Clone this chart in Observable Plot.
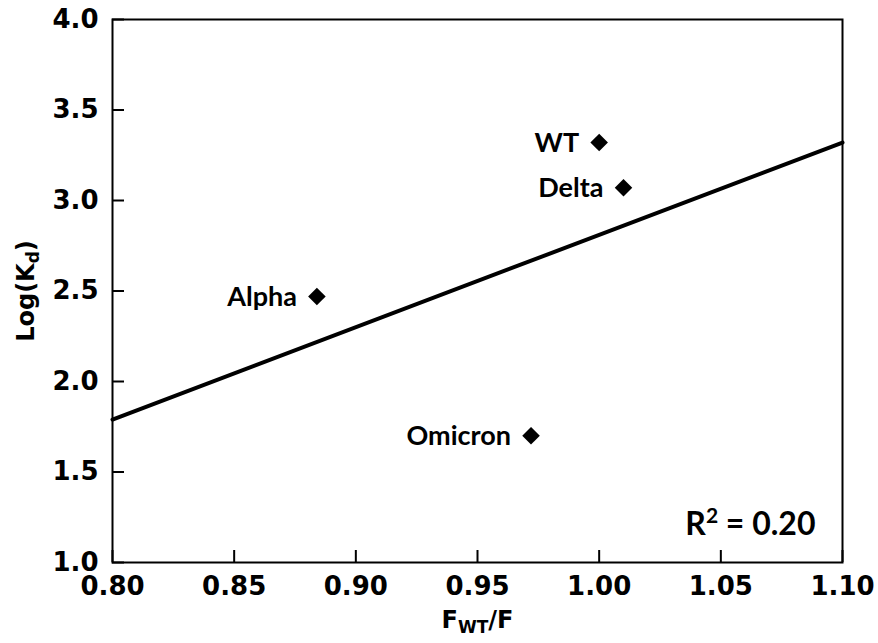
<!DOCTYPE html>
<html>
<head>
<meta charset="utf-8">
<script src="https://cdn.jsdelivr.net/npm/d3@7"></script>
<script src="https://cdn.jsdelivr.net/npm/@observablehq/plot@0.6"></script>
<style>
  html, body { margin: 0; padding: 0; background: #fff; }
</style>
</head>
<body>
<div id="chart"></div>
<script>
const variants = ["WT", "Delta", "Alpha", "Omicron"];
const fRatio = [1.00, 1.01, 0.884, 0.972];
const logKd = [3.32, 3.07, 2.47, 1.70];
const fitX = [0.80, 1.10];
const fitY = [1.79, 3.32];
const xTicks = [0.80, 0.85, 0.90, 0.95, 1.00, 1.05, 1.10];
const yTicks = [1.0, 1.5, 2.0, 2.5, 3.0, 3.5, 4.0];
const rSquaredText = "R2 = 0.20";
const xLabel = "FWT/F";
const yLabel = "Log(Kd)";

const points = variants.map((v, i) => ({ name: v, x: fRatio[i], y: logKd[i] }));
const fit = fitX.map((x, i) => ({ x, y: fitY[i] }));

const annFont = "Lato, 'Open Sans', sans-serif";

const chart = Plot.plot({
  width: 878,
  height: 643,
  marginLeft: 112,
  marginRight: 36,
  marginTop: 19,
  marginBottom: 81,
  x: { domain: [0.80, 1.10] },
  y: { domain: [1.0, 4.0] },
  style: { fontFamily: "'DejaVu Sans', sans-serif", fontWeight: "bold", fontSize: "26px", color: "black", background: "white" },
  marks: [
    Plot.axisX({ ticks: xTicks, tickSize: 0, tickPadding: 14, tickFormat: d => d.toFixed(2), label: null, fontSize: 26 }),
    Plot.axisY({ ticks: yTicks, tickSize: 0, tickPadding: 14, tickFormat: d => d.toFixed(1), label: null, fontSize: 26 }),
    Plot.tickX(xTicks, { x: d => d, insetTop: 531, stroke: "black", strokeWidth: 2 }),
    Plot.tickY(yTicks, { y: d => d, insetRight: 718, stroke: "black", strokeWidth: 2 }),
    Plot.line(fit, { x: "x", y: "y", stroke: "black", strokeWidth: 4 }),
    Plot.dot(points, { x: "x", y: "y", symbol: "diamond2", r: 7.9, fill: "black", stroke: "none" }),
    Plot.text(points, { x: "x", y: "y", text: "name", textAnchor: "end", dx: -20, dy: 1, fontFamily: annFont, fontWeight: "bold", fontSize: 27, fill: "black" }),
    Plot.text([rSquaredText], { frameAnchor: "bottom-right", textAnchor: "end", lineAnchor: "bottom", dx: -27, dy: -28, fontFamily: annFont, fontWeight: "bold", fontSize: 32, fill: "black" }),
    Plot.text([xLabel], { frameAnchor: "bottom", textAnchor: "middle", lineAnchor: "middle", dy: 58, fontSize: 24, fill: "black" }),
    Plot.text([yLabel], { frameAnchor: "left", textAnchor: "middle", lineAnchor: "middle", rotate: -90, dx: -86, fontSize: 24, fill: "black" }),
    Plot.frame({ stroke: "black", strokeWidth: 2 })
  ]
});

const ns = "http://www.w3.org/2000/svg";
function shifted(t, before, mid, after, size, shift) {
  t.textContent = "";
  const a = document.createElementNS(ns, "tspan"); a.textContent = before; t.appendChild(a);
  const b = document.createElementNS(ns, "tspan"); b.textContent = mid; b.setAttribute("font-size", size); b.setAttribute("dy", shift); t.appendChild(b);
  const c = document.createElementNS(ns, "tspan"); c.textContent = after; c.setAttribute("dy", -shift); t.appendChild(c);
}
chart.querySelectorAll("text").forEach(t => {
  if (t.textContent === yLabel) shifted(t, "Log(K", "d", ")", 17, 5);
  else if (t.textContent === xLabel) shifted(t, "F", "WT", "/F", 17, 5);
  else if (t.textContent === rSquaredText) shifted(t, "R", "2", " = 0.20", 21, -12);
});

document.getElementById("chart").appendChild(chart);
</script>
</body>
</html>
